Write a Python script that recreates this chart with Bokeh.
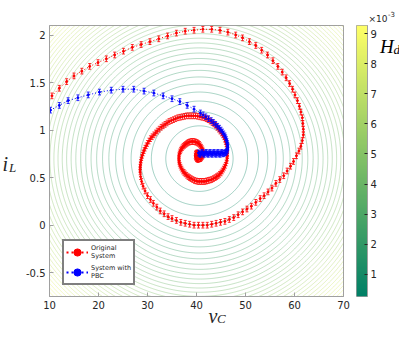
import numpy as np
from bokeh.plotting import figure
from bokeh.models import (Label, Legend, LegendItem, LinearColorMapper,
                          CustomJSTickFormatter, FixedTicker)
from bokeh.layouts import row
from bokeh.embed import file_html
from bokeh.resources import INLINE

# ---------------- data ----------------
x_ticks = [10, 20, 30, 40, 50, 60, 70]
y_ticks = [-0.5, 0, 0.5, 1, 1.5, 2]
cbar_ticks = [1, 2, 3, 4, 5, 6, 7, 8, 9]

red_v = [10.5, 12.0, 13.5, 15.0, 16.6, 18.2, 19.9, 21.6, 23.3, 25.1, 26.9, 28.7, 30.5, 32.3, 34.1, 35.9, 37.7, 39.5, 41.3, 43.1,
         44.8, 46.4, 48.0, 49.4, 50.8, 52.1, 53.3, 54.5, 55.6, 56.6, 57.5, 58.3, 59.0, 59.6, 60.1, 60.6, 61.0, 61.3, 61.6, 61.7,
         61.8, 61.8, 61.6, 61.3, 60.9, 60.4, 59.8, 59.2, 58.5, 57.8, 57.0, 56.2, 55.4, 54.6, 53.8, 53.0, 52.1, 51.2, 50.3, 49.4,
         48.5, 47.6, 46.7, 45.8, 44.9, 44.0, 43.1, 42.2, 41.3, 40.4, 39.5, 38.6, 37.7, 36.8, 35.9, 35.0, 34.2, 33.4, 32.6, 31.9,
         31.2, 30.6, 30.0, 29.5, 29.1, 28.8, 28.6,
         28.5, 28.5, 28.5, 28.55, 28.6, 28.7, 28.8, 28.95, 29.1, 29.3, 29.5, 29.75, 30.0, 30.3, 30.6, 30.95, 31.3, 31.65, 32.0, 32.4,
         32.8, 33.2, 33.6, 34.0, 34.4, 34.85, 35.3, 35.75, 36.2, 36.65, 37.1, 37.55, 38.0, 38.45, 38.9, 39.35, 39.8, 40.25, 40.7, 41.15,
         41.6, 42.0, 42.4, 42.8, 43.2, 43.55, 43.9, 44.2, 44.5, 44.8, 45.1, 45.35, 45.6, 45.75, 45.9, 46.05, 46.2, 46.25, 46.3, 46.3,
         46.3, 46.25, 46.2, 46.05, 45.9, 45.7, 45.5, 45.25, 45.0, 44.7, 44.4, 44.1, 43.8, 43.45, 43.1, 42.75, 42.4, 42.05, 41.7, 41.35,
         41.0, 40.65, 40.3, 39.95, 39.6, 39.25, 38.9, 38.6, 38.3, 38.0, 37.7, 37.45, 37.2, 37.0, 36.8, 36.65, 36.5, 36.45, 36.4, 36.4,
         36.4, 36.5, 36.6, 36.75, 36.9, 37.1, 37.3, 37.55, 37.8, 38.05, 38.3, 38.6, 38.9, 39.2, 39.5, 39.8, 40.1, 40.35, 40.6, 40.8,
         41.0, 41.15, 41.3, 41.35, 41.4, 41.35, 41.3, 41.15, 41.0, 40.85, 40.7, 40.5, 40.3, 40.15, 40.0, 39.9, 39.8, 39.75, 39.8, 39.9,
         40.05, 40.2, 40.35, 40.45, 40.5, 40.45, 40.35, 40.2]
red_i = [1.36, 1.44, 1.51, 1.57, 1.62, 1.67, 1.71, 1.75, 1.79, 1.83, 1.87, 1.90, 1.93, 1.96, 1.99, 2.02, 2.04, 2.05, 2.06, 2.06,
         2.05, 2.03, 2.00, 1.97, 1.93, 1.89, 1.84, 1.79, 1.73, 1.67, 1.61, 1.55, 1.49, 1.43, 1.37, 1.31, 1.25, 1.19, 1.13, 1.07,
         1.01, 0.95, 0.89, 0.83, 0.78, 0.73, 0.67, 0.62, 0.57, 0.52, 0.48, 0.44, 0.39, 0.35, 0.31, 0.28, 0.24, 0.20, 0.17, 0.14,
         0.11, 0.08, 0.06, 0.04, 0.03, 0.02, 0.01, 0.00, 0.00, 0.00, 0.00, 0.01, 0.02, 0.03, 0.05, 0.07, 0.09, 0.12, 0.15, 0.19,
         0.23, 0.27, 0.31, 0.36, 0.41, 0.46, 0.51,
         0.56, 0.585, 0.61, 0.635, 0.66, 0.685, 0.71, 0.735, 0.76, 0.785, 0.81, 0.835, 0.86, 0.885, 0.91, 0.93, 0.95, 0.97, 0.99, 1.01,
         1.03, 1.045, 1.06, 1.075, 1.09, 1.10, 1.11, 1.12, 1.13, 1.135, 1.14, 1.145, 1.15, 1.15, 1.15, 1.15, 1.15, 1.145, 1.14, 1.135,
         1.13, 1.12, 1.11, 1.095, 1.08, 1.065, 1.05, 1.03, 1.01, 0.99, 0.97, 0.95, 0.93, 0.905, 0.88, 0.855, 0.83, 0.805, 0.78, 0.755,
         0.73, 0.705, 0.68, 0.655, 0.63, 0.61, 0.59, 0.57, 0.55, 0.535, 0.52, 0.51, 0.50, 0.49, 0.48, 0.475, 0.47, 0.465, 0.46, 0.46,
         0.46, 0.46, 0.46, 0.465, 0.47, 0.48, 0.49, 0.50, 0.51, 0.525, 0.54, 0.555, 0.57, 0.59, 0.61, 0.63, 0.65, 0.67, 0.69, 0.71,
         0.73, 0.75, 0.77, 0.785, 0.80, 0.815, 0.83, 0.84, 0.85, 0.86, 0.87, 0.875, 0.88, 0.88, 0.88, 0.875, 0.87, 0.86, 0.85, 0.835,
         0.82, 0.805, 0.79, 0.775, 0.76, 0.745, 0.73, 0.72, 0.71, 0.70, 0.70, 0.695, 0.69, 0.695, 0.70, 0.71, 0.72, 0.73, 0.745, 0.755,
         0.76, 0.76, 0.755, 0.745, 0.735, 0.725, 0.72, 0.72]

blue_v = [10.2, 12.0, 13.8, 15.8, 17.9, 20.2, 22.6, 25.0, 27.2, 29.3, 31.3, 33.2, 35.0, 36.6, 38.1, 39.5,
          40.8, 41.35, 41.9, 42.45, 43.0, 43.45, 43.9, 44.3, 44.7, 45.0, 45.3, 45.55, 45.8, 45.95, 46.1, 46.2, 46.3, 46.35, 46.4, 46.35,
          46.3, 46.2, 46.1, 45.95, 45.8, 45.6, 45.4, 45.2, 45.0, 44.8, 44.6, 44.4, 44.2, 44.0, 43.8, 43.6, 43.4, 43.2, 43.0, 42.8,
          42.6, 42.4, 42.2, 42.0, 41.8, 41.6, 41.4, 41.2, 41.0, 40.8, 40.6, 40.4]
blue_i = [1.21, 1.26, 1.31, 1.34, 1.37, 1.40, 1.42, 1.43, 1.43, 1.41, 1.39, 1.36, 1.33, 1.30, 1.26, 1.22,
          1.18, 1.16, 1.14, 1.12, 1.10, 1.08, 1.06, 1.04, 1.02, 1.00, 0.98, 0.96, 0.94, 0.92, 0.90, 0.88, 0.86, 0.84, 0.82, 0.80,
          0.79, 0.78, 0.77, 0.765, 0.76, 0.755, 0.75, 0.765, 0.76, 0.745, 0.75, 0.765, 0.76, 0.745, 0.75, 0.765, 0.76, 0.745, 0.75, 0.765,
          0.76, 0.745, 0.75, 0.765, 0.76, 0.745, 0.75, 0.765, 0.76, 0.745, 0.75, 0.76]
err = 0.03

# energy function H_d (units of 1e-3) and its contour levels
hd_center_v, hd_center_i = 40.6, 0.70
hd_a, hd_b, hd_min = 5.09e-3, 2.02, 0.26
hd_levels = list(np.arange(0.5, 9.01, 0.25))

# ---------------- helpers ----------------
def summer(n):
    out = []
    for k in range(n):
        t = k / (n - 1)
        out.append("#%02x%02x%02x" % (int(round(255 * t)), int(round(255 * (0.5 + 0.5 * t))), int(round(255 * 0.4))))
    return out

pal = summer(256)
vv = np.linspace(10, 70, 301)
ii = np.linspace(-0.75, 2.1, 286)
V, I = np.meshgrid(vv, ii)
Z = hd_min + hd_a * (V - hd_center_v) ** 2 + hd_b * (I - hd_center_i) ** 2
lo, hi = float(Z.min()), float(Z.max())
mapper = LinearColorMapper(palette=pal, low=lo, high=hi)
lvl_colors = [pal[int(round((l - lo) / (hi - lo) * 255))] for l in hd_levels]

TXT = "#262626"
AX = "#a0a0a0"
FONT = "DejaVu Sans"
MATH = "Liberation Serif"

# geometry (figure pixels)
FL, FR, FT, FB = 49, 13, 25, 30
W, H = 356, 326
X0, X1, Y0, Y1 = 10, 70, -0.75, 2.1
frame_w = W - FL - FR
frame_h = H - FT - FB


def mx(px):   # main-figure pixel -> data x
    return X0 + (px - FL) * (X1 - X0) / frame_w


def my(py):   # main-figure pixel -> data y
    return Y1 - (py - FT) * (Y1 - Y0) / frame_h


p = figure(width=W, height=H, x_range=(X0, X1), y_range=(Y0, Y1), title=None,
           output_backend="svg", toolbar_location=None,
           min_border_left=FL, min_border_right=FR, min_border_top=FT, min_border_bottom=FB)
p.grid.visible = False
p.outline_line_color = AX
p.outline_line_width = 1
p.background_fill_color = "white"

p.contour(vv, ii, Z, hd_levels, line_color=lvl_colors, line_width=0.7, line_alpha=0.55, fill_color=None)

p.xaxis.ticker = FixedTicker(ticks=x_ticks)
p.yaxis.ticker = FixedTicker(ticks=y_ticks)
p.yaxis.formatter = CustomJSTickFormatter(code="return String(tick)")
for ax in (p.xaxis, p.yaxis):
    ax.axis_line_color = AX
    ax.major_tick_line_color = AX
    ax.major_tick_in = 4
    ax.major_tick_out = 0
    ax.minor_tick_line_color = None
    ax.major_label_text_font = FONT
    ax.major_label_text_font_size = "10px"
    ax.major_label_text_color = TXT
p.xaxis.major_label_standoff = 4
p.yaxis.major_label_standoff = 4


def trajectory(vs, is_, color):
    lo_ = [y - err for y in is_]
    hi_ = [y + err for y in is_]
    p.segment(x0=vs, y0=lo_, x1=vs, y1=hi_, line_color=color, line_width=0.8)
    p.scatter(vs, lo_, marker="dash", size=3, line_color=color, line_width=0.8)
    p.scatter(vs, hi_, marker="dash", size=3, line_color=color, line_width=0.8)
    p.line(vs, is_, line_color=color, line_width=1, line_dash="1 2")
    p.scatter(vs, is_, marker="circle", size=2, color=color)
    lg_line = p.line(vs, is_, line_color=color, line_width=2, line_dash="2 3", visible=False)
    lg_dot = p.scatter(vs, is_, marker="circle", size=7, color=color, visible=False)
    return [lg_line, lg_dot]


r_red = trajectory(red_v, red_i, "red")
r_blue = trajectory(blue_v, blue_i, "blue")

legend = Legend(items=[LegendItem(label="Original\nSystem", renderers=r_red),
                       LegendItem(label="System with\nPBC", renderers=r_blue)],
                location=(13, 11), border_line_color="black", border_line_width=2,
                background_fill_color="white", background_fill_alpha=1,
                padding=2, spacing=2, margin=0, glyph_width=22, glyph_height=18,
                label_standoff=3, label_text_font=FONT, label_text_font_size="6.5px",
                label_text_color=TXT, label_height=14)
p.add_layout(legend, "center")


def mathlabel(x, y, text, size, color=TXT, font=MATH, style="italic"):
    return Label(x=x, y=y, text=text, text_font=font, text_font_style=style,
                 text_font_size=size, text_color=color, text_baseline="alphabetic")


# axis labels (placed in side panels so they are not clipped to the frame)
p.add_layout(mathlabel(mx(2), my(163), "i", "20px"), "left")
p.add_layout(mathlabel(mx(8.5), my(167), "L", "13px"), "left")
p.add_layout(mathlabel(mx(208), my(315), "v", "20px"), "right")
p.add_layout(mathlabel(mx(216.5), my(318), "C", "13px"), "above")

# colorbar figure
CW = 399 - W
CBR = CW - 11
cb = figure(width=CW, height=H, x_range=(0, 1), y_range=(lo, hi), title=None,
            output_backend="svg", toolbar_location=None, x_axis_location=None,
            y_axis_location="right",
            min_border_left=0, min_border_right=CBR, min_border_top=FT, min_border_bottom=FB)
cb.grid.visible = False
cb.outline_line_color = AX
grad = np.linspace(lo, hi, 256).reshape(256, 1)
cb.image(image=[grad], x=0, y=lo, dw=1, dh=hi - lo, color_mapper=mapper)
cb.yaxis.ticker = FixedTicker(ticks=cbar_ticks)
cb.yaxis.axis_line_color = AX
cb.yaxis.major_tick_line_color = TXT
cb.yaxis.major_tick_in = 3
cb.yaxis.major_tick_out = 0
cb.yaxis.minor_tick_line_color = None
cb.yaxis.major_label_text_font = FONT
cb.yaxis.major_label_text_font_size = "10px"
cb.yaxis.major_label_text_color = TXT
cb.yaxis.major_label_standoff = 3

cbw = CW - CBR


def cx(px):
    return px / cbw


def cy(py):
    return hi - (py - FT) * (hi - lo) / frame_h


cb.add_layout(mathlabel(cx(23.5), cy(46), "H", "19px", color="black"), "right")
cb.add_layout(mathlabel(cx(37), cy(49), "d", "13px", color="black"), "below")
cb.add_layout(mathlabel(cx(12), cy(18), "×10", "9px", font=FONT, style="normal"), "above")
cb.add_layout(mathlabel(cx(31.5), cy(13), "-3", "7px", font=FONT, style="normal"), "below")

layout = row(p, cb, spacing=0)
open("out.html", "w").write(file_html(layout, INLINE))
